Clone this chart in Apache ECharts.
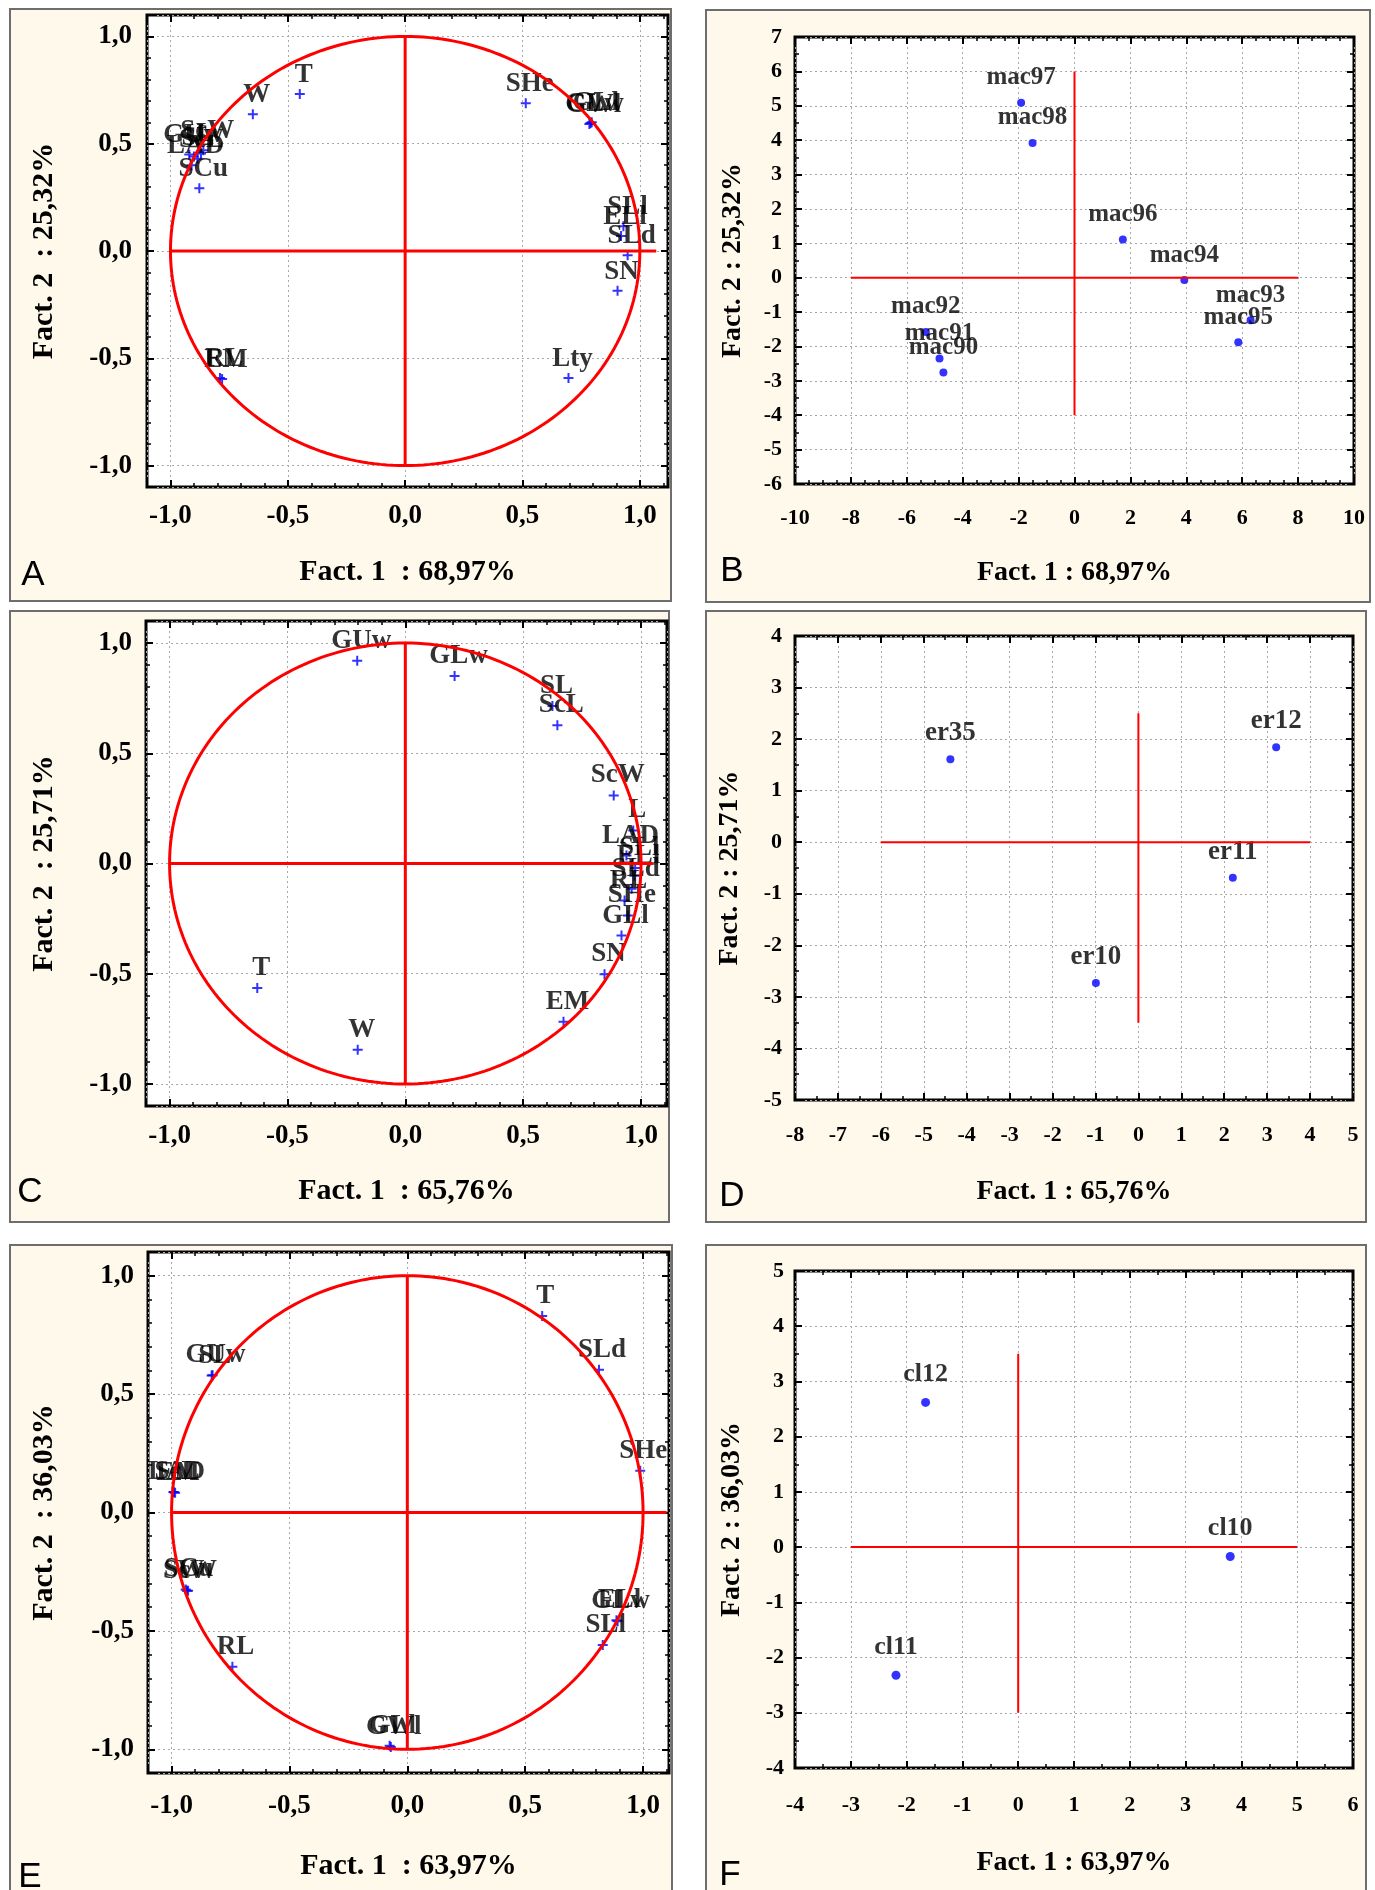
<!DOCTYPE html>
<html>
<head>
<meta charset="utf-8">
<script src="https://cdn.jsdelivr.net/npm/echarts@6.0.0/dist/echarts.min.js"></script>
<style>
html,body{margin:0;padding:0;background:#ffffff;}
#chart{width:1375px;height:1890px;}
</style>
</head>
<body>
<div id="chart"></div>
<script>
// ---------- DATA ----------
// Panel A : variables (correlation circle)
const aNames = ['T','W','SHe','ScW','GUw','SL','ScL','L','LAD','SCu','GLw','GLl','GWl','SLl','ELl','SLd','SN','Lty','RL','EM'];
const aX = [-0.449,-0.649,0.514,-0.86,-0.92,-0.90,-0.885,-0.87,-0.91,-0.877,0.79,0.795,0.785,0.93,0.92,0.948,0.905,0.696,-0.789,-0.78];
const aY = [0.732,0.637,0.689,0.47,0.45,0.44,0.43,0.455,0.40,0.292,0.597,0.60,0.592,0.115,0.07,-0.02,-0.185,-0.592,-0.592,-0.597];
// Panel B : cases
const bNames = ['mac90','mac91','mac92','mac93','mac94','mac95','mac96','mac97','mac98'];
const bX = [-4.69,-4.83,-5.32,6.30,3.93,5.86,1.73,-1.91,-1.50];
const bY = [-2.76,-2.35,-1.58,-1.24,-0.07,-1.88,1.11,5.09,3.92];
// Panel C : variables
const cNames = ['GUw','GLw','SL','ScL','ScW','L','LAD','SLl','ELl','SLd','RL','SHe','GLl','SN','EM','T','W'];
const cX = [-0.204,0.209,0.624,0.645,0.884,0.967,0.938,0.975,0.972,0.96,0.93,0.944,0.917,0.845,0.671,-0.628,-0.202];
const cY = [0.92,0.851,0.714,0.627,0.309,0.15,0.036,-0.02,-0.055,-0.114,-0.168,-0.236,-0.327,-0.502,-0.718,-0.565,-0.845];
// Panel D : cases
const dNames = ['er10','er11','er12','er35'];
const dX = [-0.99,2.2,3.21,-4.38];
const dY = [-2.73,-0.69,1.84,1.61];
// Panel E : variables
const eNames = ['T','SLd','SHe','GUw','SL','ScL','LAD','EM','ScW','SCu','W','RL','GLw','ELl','SLl','GWl','GLl'];
const eX = [0.572,0.813,0.988,-0.826,-0.83,-0.99,-0.992,-0.985,-0.935,-0.94,-0.93,-0.742,0.892,0.887,0.829,-0.07,-0.075];
const eY = [0.830,0.603,0.176,0.58,0.578,0.085,0.087,0.083,-0.33,-0.325,-0.33,-0.651,-0.459,-0.455,-0.559,-0.99,-0.985];
// Panel F : cases
const fNames = ['cl10','cl11','cl12'];
const fX = [3.8,-2.19,-1.66];
const fY = [-0.17,-2.32,2.62];

// reference cross lines (extent along the x axis at y=0, extent along the y axis at x=0)
const aCrossH = [-1, 1.07], aCrossV = [-1, 1];
const bCrossH = [-8, 8],    bCrossV = [-4, 6];
const cCrossH = [-1, 1.05], cCrossV = [-1, 1];
const dCrossH = [-6, 4],    dCrossV = [-3.5, 2.5];
const eCrossH = [-1, 1.1],  eCrossV = [-1, 1];
const fCrossH = [-3, 5],    fCrossV = [-3, 3.5];
const circleRadius = 1;

// axis titles and panel letters
const xTitles = ['Fact. 1  : 68,97%','Fact. 1 : 68,97%','Fact. 1  : 65,76%','Fact. 1 : 65,76%','Fact. 1  : 63,97%','Fact. 1 : 63,97%'];
const yTitles = ['Fact. 2  : 25,32%','Fact. 2 : 25,32%','Fact. 2  : 25,71%','Fact. 2 : 25,71%','Fact. 2  : 36,03%','Fact. 2 : 36,03%'];
const letters = ['A','B','C','D','E','F'];

// ---------- LAYOUT / STYLE ----------
const RED = '#ff0000', BLUE = '#0000ff';
const SERIF = '"Liberation Serif","Times New Roman",serif';
const SANS = '"Liberation Sans",Arial,sans-serif';
const PLUS = 'path://M4,0H6V4H10V6H6V10H4V6H0V4H4Z';

const layout = [
  {grid:[147,15,521,472],  x:[-1.1,1.12],  y:[-1.1,1.1], corr:true,  xm:16, ym:15, xg:70, yg:88, box:[10,9,661,592],    letter:[33,575],   off:[4,-19], lf:27, ms:10, mx:5, my:5},
  {grid:[795,37,559,447],  x:[-10,10,2],   y:[-6,7,1],   corr:false, xm:23, ym:13, xg:75, yg:48, box:[706,10,664,592],   letter:[732,571],  off:[0,-25], lf:25, ms:8,  mx:4, my:2},
  {grid:[146,621,521,485], x:[-1.1,1.11],  y:[-1.1,1.1], corr:true,  xm:17, ym:14, xg:70, yg:87, box:[10,611,659,611],   letter:[30,1192],  off:[4,-20], lf:27, ms:10, mx:5, my:5},
  {grid:[795,636,558,464], x:[-8,5,1],     y:[-5,4,1],   corr:false, xm:24, ym:13, xg:78, yg:51, box:[706,611,660,611],  letter:[732,1196], off:[0,-26], lf:27, ms:8,  mx:2, my:2},
  {grid:[148,1252,521,521],x:[-1.1,1.11],  y:[-1.1,1.1], corr:true,  xm:20, ym:14, xg:78, yg:89, box:[10,1245,662,700],  letter:[30,1877],  off:[3,-20], lf:27, ms:10, mx:5, my:5},
  {grid:[795,1271,558,497],x:[-4,6,1],     y:[-4,5,1],   corr:false, xm:26, ym:11, xg:81, yg:49, box:[706,1245,660,700], letter:[730,1875], off:[0,-28], lf:26, ms:9,  mx:2, my:2}
];

const dataSets = [[aNames,aX,aY],[bNames,bX,bY],[cNames,cX,cY],[dNames,dX,dY],[eNames,eX,eY],[fNames,fX,fY]];
const crosses = [[aCrossH,aCrossV],[bCrossH,bCrossV],[cCrossH,cCrossV],[dCrossH,dCrossV],[eCrossH,eCrossV],[fCrossH,fCrossV]];

const chart = echarts.init(document.getElementById('chart'), null, {renderer:'canvas', width:1375, height:1890});

const grids = [], xAxes = [], yAxes = [], series = [], graphics = [];

layout.forEach((L, i) => {
  const corr = L.corr;
  grids.push({left:L.grid[0], top:L.grid[1], width:L.grid[2], height:L.grid[3],
    show:true, backgroundColor:'#ffffff', borderColor:'#000000', borderWidth:3, containLabel:false});

  const fmt = corr
    ? (v => (Math.abs(v * 2 - Math.round(v * 2)) < 1e-6 ? v.toFixed(1).replace('.', ',') : ''))
    : (v => String(Math.round(v)));

  const mk = (dim, range, main) => {
    const ax = {
      gridIndex:i, type:'value', min:range[0], max:range[1],
      position: dim === 'x' ? (main ? 'bottom' : 'top') : (main ? 'left' : 'right'),
      axisLine:{show:false, onZero:false},
      axisTick:{show:true, inside:true, length:7, lineStyle:{color:'#000', width:2}},
      minorTick:{show:true, splitNumber: dim === 'x' ? L.mx : L.my, length:4, lineStyle:{color:'#000', width:1.5}},
      splitLine:{show:main, lineStyle:{color:'#a8a8a8', width:1, type:[2,3]}},
      minorSplitLine:{show:false},
      axisLabel:{show:main, margin: dim === 'x' ? L.xm : L.ym, color:'#000', fontFamily:SERIF,
        fontWeight:'bold', fontSize: corr ? 27 : 22, formatter:fmt}
    };
    if (range[2]) ax.interval = range[2];
    if (main) {
      ax.name = dim === 'x' ? xTitles[i] : yTitles[i];
      ax.nameLocation = 'middle';
      ax.nameGap = dim === 'x' ? L.xg : L.yg;
      ax.nameTextStyle = {color:'#000', fontFamily:SERIF, fontWeight:'bold', fontSize: corr ? 30 : 28};
    }
    return ax;
  };
  xAxes.push(mk('x', L.x, true), mk('x', L.x, false));
  yAxes.push(mk('y', L.y, true), mk('y', L.y, false));

  const [names, xs, ys] = dataSets[i];
  series.push({
    type:'scatter', xAxisIndex:2*i, yAxisIndex:2*i, z:2, silent:true,
    symbol: corr ? PLUS : 'circle', symbolSize:L.ms,
    itemStyle:{color:BLUE},
    label:{show:true, position:'inside', offset:L.off, formatter:'{b}', color:'#000',
      fontFamily:SERIF, fontWeight:'bold', fontSize:L.lf, textBorderWidth:0, textBorderColor:'transparent'},
    emphasis:{disabled:true},
    data: names.map((n, k) => ({name:n, value:[xs[k], ys[k]]}))
  });

  const [H, V] = crosses[i];
  const lw = corr ? 3 : 2;
  series.push({type:'line', xAxisIndex:2*i, yAxisIndex:2*i, z:4, silent:true, symbol:'none', showSymbol:false,
    lineStyle:{color:RED, width:lw}, data:[[H[0],0],[H[1],0]]});
  series.push({type:'line', xAxisIndex:2*i, yAxisIndex:2*i, z:4, silent:true, symbol:'none', showSymbol:false,
    lineStyle:{color:RED, width:lw}, data:[[0,V[0]],[0,V[1]]]});

  if (corr) {
    series.push({
      type:'custom', xAxisIndex:2*i, yAxisIndex:2*i, z:4, silent:true, clip:false,
      data:[[0,0]],
      renderItem:(params, api) => {
        const pts = [];
        for (let k = 0; k <= 240; k++) {
          const a = k * 2 * Math.PI / 240;
          pts.push(api.coord([circleRadius * Math.cos(a), circleRadius * Math.sin(a)]));
        }
        return {type:'polyline', shape:{points:pts}, style:{stroke:RED, lineWidth:3, fill:null}};
      }
    });
  }

  graphics.push({type:'rect', z:-10, silent:true,
    shape:{x:L.box[0], y:L.box[1], width:L.box[2], height:L.box[3]},
    style:{fill:'#FFF9EC', stroke:'#6e6e6e', lineWidth:2}});
  graphics.push({type:'text', z:10, silent:true, x:L.letter[0], y:L.letter[1],
    style:{text:letters[i], fontSize:35, fontFamily:SANS, fill:'#000',
      align:'center', verticalAlign:'middle', textAlign:'center', textVerticalAlign:'middle'}});
});

chart.setOption({
  animation:false,
  backgroundColor:'#ffffff',
  grid:grids,
  xAxis:xAxes,
  yAxis:yAxes,
  series:series,
  graphic:{elements:graphics}
});
</script>
</body>
</html>
